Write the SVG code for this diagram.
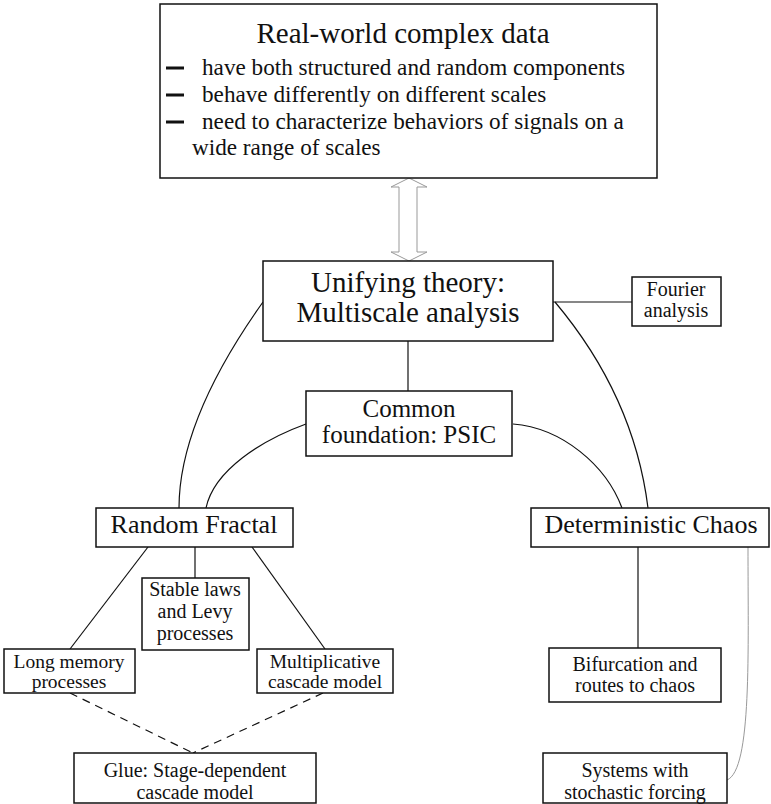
<svg xmlns="http://www.w3.org/2000/svg" width="771" height="804" viewBox="0 0 771 804">
<style>
.box{fill:#fff;stroke:#111;stroke-width:1.5}
text{font-family:"Liberation Serif","Times New Roman",serif;fill:#111}
.c{text-anchor:middle}
.ln{fill:none;stroke:#111;stroke-width:1.2}
.dash{fill:none;stroke:#111;stroke-width:1.2;stroke-dasharray:8,6}
.gray{fill:none;stroke:#999;stroke-width:1}
</style>
<g id="connectors">
<path class="gray" d="M399,187 L391,187 L409,178 L427,187 L417,187 L417,252 L427,252 L409,261 L391,252 L399,252 Z"/>
<path class="ln" d="M263,302 Q179,420 179,508"/>
<path class="ln" d="M306,424 C262,440 214,470 206,508"/>
<path class="ln" d="M555,302 C597,352 637,420 648,508"/>
<path class="ln" d="M513,424 C562,428 606,465 622,508"/>
<path class="ln" d="M408,341 L408,391"/>
<path class="ln" d="M553,302 L632,302"/>
<path class="ln" d="M148,547 L70,649"/>
<path class="ln" d="M195,547 L195,578"/>
<path class="ln" d="M252,547 L325,649"/>
<path class="dash" d="M70,693 L193,753"/>
<path class="dash" d="M323,693 L193,753"/>
<path class="ln" d="M638,547 L638,648"/>
<path class="gray" d="M748,547 C748,650 752,770 727,780"/>
</g>
<g id="top">
<rect class="box" x="160" y="4" width="497" height="174"/>
<text class="c" x="403" y="43" font-size="29">Real-world complex data</text>
<path d="M166,68 L184,68 M166,95 L184,95 M166,122 L184,122" stroke="#111" stroke-width="2.8"/>
<text x="202" y="75" font-size="23.2">have both structured and random components</text>
<text x="202" y="102" font-size="23.2">behave differently on different scales</text>
<text x="202" y="129" font-size="23.2">need to characterize behaviors of signals on a</text>
<text x="192" y="155" font-size="23.2">wide range of scales</text>
</g>
<g id="unifying">
<rect class="box" x="263" y="261" width="290" height="80"/>
<text class="c" x="408" y="292" font-size="29">Unifying theory:</text>
<text class="c" x="408" y="322" font-size="29">Multiscale analysis</text>
</g>
<g id="fourier">
<rect class="box" x="632" y="277" width="89" height="49"/>
<text class="c" x="676" y="296" font-size="20">Fourier</text>
<text class="c" x="676" y="317" font-size="20">analysis</text>
</g>
<g id="common">
<rect class="box" x="306" y="391" width="206" height="65"/>
<text class="c" x="409" y="417" font-size="25">Common</text>
<text class="c" x="409" y="443" font-size="25">foundation: PSIC</text>
</g>
<g id="random">
<rect class="box" x="96" y="508" width="197" height="39"/>
<text class="c" x="194" y="533" font-size="26">Random Fractal</text>
</g>
<g id="chaos">
<rect class="box" x="531" y="508" width="238" height="39"/>
<text class="c" x="651" y="533" font-size="26">Deterministic Chaos</text>
</g>
<g id="stable">
<rect class="box" x="142" y="578" width="107" height="72"/>
<text class="c" x="195" y="596" font-size="20">Stable laws</text>
<text class="c" x="195" y="618" font-size="20">and Levy</text>
<text class="c" x="195" y="640" font-size="20">processes</text>
</g>
<g id="longmem">
<rect class="box" x="4" y="649" width="131" height="44"/>
<text class="c" x="69" y="668" font-size="19.5">Long memory</text>
<text class="c" x="69" y="688" font-size="19.5">processes</text>
</g>
<g id="multi">
<rect class="box" x="257" y="649" width="136" height="44"/>
<text class="c" x="325" y="668" font-size="19.5">Multiplicative</text>
<text class="c" x="325" y="688" font-size="19.5">cascade model</text>
</g>
<g id="bifurcation">
<rect class="box" x="549" y="648" width="172" height="54"/>
<text class="c" x="635" y="671" font-size="20">Bifurcation and</text>
<text class="c" x="635" y="692" font-size="20">routes to chaos</text>
</g>
<g id="glue">
<rect class="box" x="74" y="753" width="242" height="50"/>
<text class="c" x="195" y="777" font-size="20">Glue: Stage-dependent</text>
<text class="c" x="195" y="799" font-size="20">cascade model</text>
</g>
<g id="systems">
<rect class="box" x="543" y="753" width="184" height="50"/>
<text class="c" x="635" y="777" font-size="20">Systems with</text>
<text class="c" x="635" y="799" font-size="20">stochastic forcing</text>
</g>
</svg>
